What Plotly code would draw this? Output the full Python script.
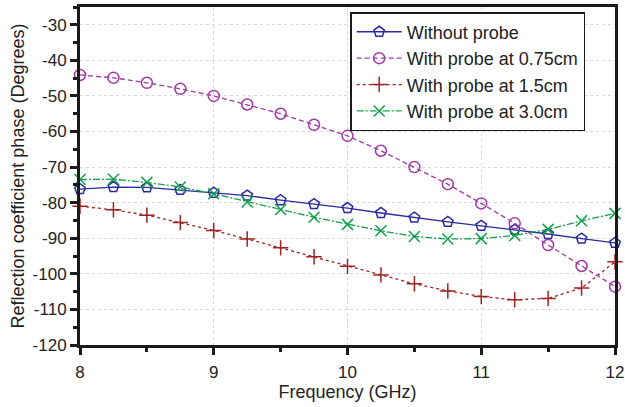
import plotly.graph_objects as go

freq = [8.0, 8.25, 8.5, 8.75, 9.0, 9.25, 9.5, 9.75, 10.0, 10.25, 10.5, 10.75, 11.0, 11.25, 11.5, 11.75, 12.0]

without_probe = [-76.2, -75.6, -75.7, -76.4, -77.2, -78.0, -79.3, -80.4, -81.5, -82.9, -84.2, -85.4, -86.5, -87.6, -88.8, -90.1, -91.3]
probe_075 = [-44.1, -44.9, -46.3, -48.0, -50.0, -52.4, -55.0, -58.1, -61.2, -65.4, -70.0, -74.8, -80.2, -85.8, -91.9, -97.8, -103.6]
probe_15 = [-81.0, -82.0, -83.5, -85.6, -87.8, -90.2, -92.7, -95.2, -97.9, -100.3, -102.8, -104.8, -106.4, -107.3, -106.9, -104.0, -96.6]
probe_30 = [-73.5, -73.4, -74.3, -75.6, -77.5, -79.8, -81.9, -84.1, -86.1, -87.9, -89.5, -90.2, -90.1, -89.2, -87.5, -85.1, -83.0]

x_ticks = [8, 9, 10, 11, 12]
y_ticks = list(range(-120, -29, 10))
y_labels = [str(v) for v in y_ticks]  # plain hyphen like the original

series = [
    ("Without probe", without_probe, "#2a2a9e", "solid", "pentagon-open"),
    ("With probe at 0.75cm", probe_075, "#a23aa6", "5px,3px", "circle-open"),
    ("With probe at 1.5cm", probe_15, "#9e2424", "dot", "cross-thin-open"),
    ("With probe at 3.0cm", probe_30, "#12a04a", "7px,2px,2px,2px", "x-thin-open"),
]

fig = go.Figure()
for name, vals, col, dash, sym in series:
    fig.add_trace(go.Scatter(
        x=freq, y=vals, name=name, mode="lines+markers",
        line=dict(color=col, width=1.3, dash=dash),
        marker=dict(symbol=sym, size=11, color=col, line=dict(color=col, width=1.5)),
        cliponaxis=False,
    ))

axis_common = dict(
    showline=True, linewidth=3, linecolor="#1a1a1a", mirror=True,
    ticks="outside", ticklen=7, tickwidth=2.5, tickcolor="#1a1a1a",
    showgrid=True, gridcolor="#d8d8d8", griddash="dot", gridwidth=1,
    zeroline=False, automargin=False,
    tickfont=dict(family="Liberation Sans, Arial", size=17, color="#222"),
)

fig.update_layout(
    width=625, height=407,
    margin=dict(l=80, r=10, t=7, b=62),
    paper_bgcolor="white", plot_bgcolor="white",
    font=dict(family="Liberation Sans, Arial", color="#222"),
    xaxis=dict(
        range=[8, 12], tickvals=x_ticks, ticklabelstandoff=3,
        minor=dict(tickvals=[8.5, 9.5, 10.5, 11.5], ticks="outside", ticklen=4, tickwidth=2.5, tickcolor="#1a1a1a", showgrid=False),
        title=dict(text="Frequency (GHz)", font=dict(size=18), standoff=0),
        **axis_common,
    ),
    yaxis=dict(
        range=[-120, -25], tickvals=y_ticks, ticktext=y_labels,
        minor=dict(tickvals=list(range(-115, -24, 10)), ticks="outside", ticklen=4, tickwidth=2.5, tickcolor="#1a1a1a", showgrid=False),
        title=dict(text="Reflection coefficient phase (Degrees)", font=dict(size=18), standoff=4),
        **axis_common,
    ),
    legend=dict(
        x=0.505, y=0.985, xanchor="left", yanchor="top",
        bgcolor="white", bordercolor="#1a1a1a", borderwidth=1.5,
        font=dict(size=18, color="#222"), tracegroupgap=0,
        itemwidth=45,
    ),
)

# drop the browser's default 8px body margin so the figure sits at the page corner
fig.write_html("out.html", config={"displayModeBar": False},
               post_script="document.body.style.margin='0';")
